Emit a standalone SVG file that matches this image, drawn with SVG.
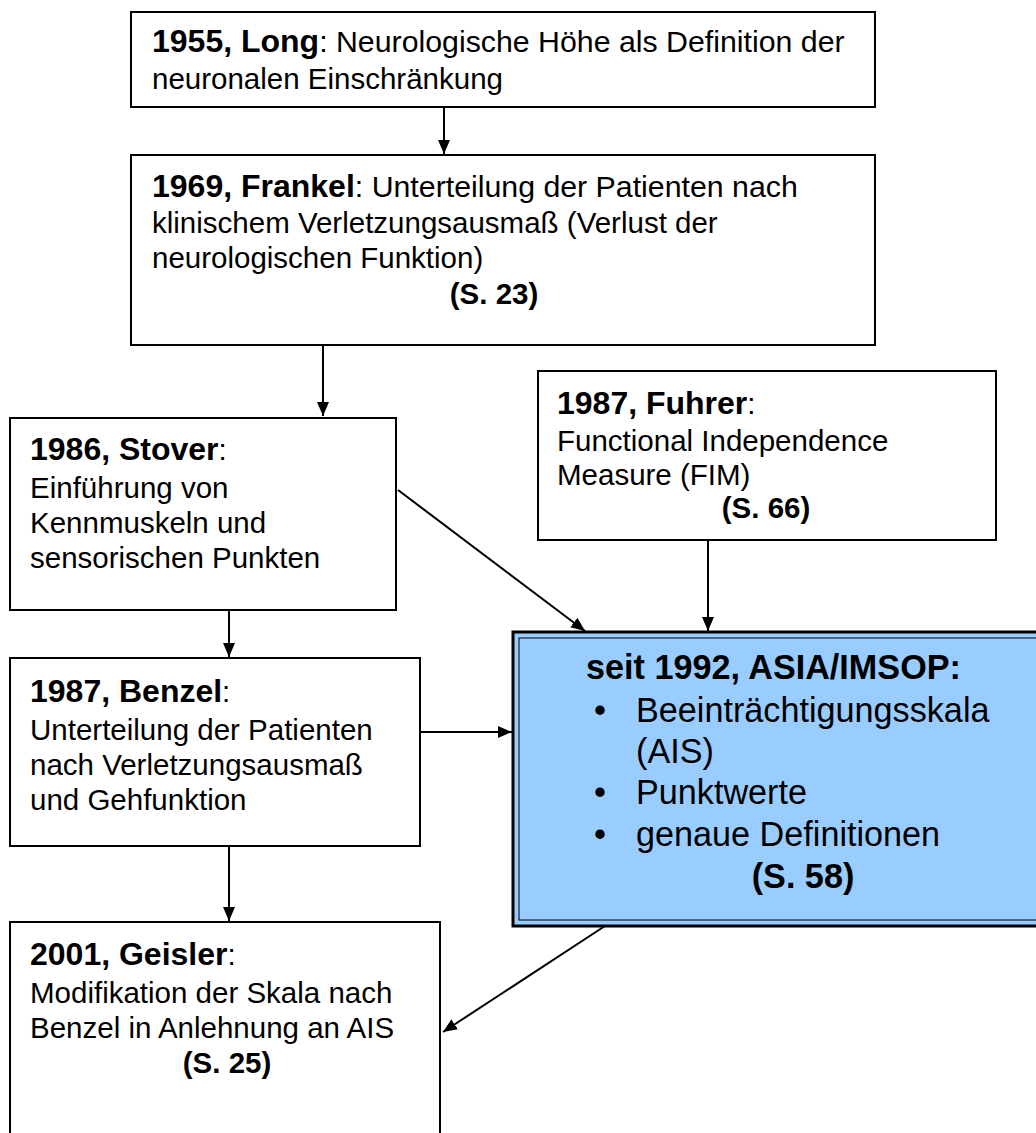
<svg xmlns="http://www.w3.org/2000/svg" width="1036" height="1133" viewBox="0 0 1036 1133">
<defs>
<style>
.box{fill:#fff;stroke:#000;stroke-width:2}
.t{font-family:"Liberation Sans",Arial,sans-serif;font-size:29.5px;fill:#000}
.f{font-size:30.3px}
.a{font-family:"Liberation Sans",Arial,sans-serif;font-size:34.2px;fill:#000}
.b{font-weight:bold}
.h{font-weight:bold;font-size:32px}
.c{stroke:#000;stroke-width:2;fill:none}
</style>
<marker id="ah" viewBox="0 0 14 12" refX="14" refY="6" markerWidth="14" markerHeight="12" markerUnits="userSpaceOnUse" orient="auto">
<path d="M0,0 L14,6 L0,12 z" fill="#000"/>
</marker>
</defs>
<rect width="1036" height="1133" fill="#fff"/>
<g id="connectors">
<line class="c" x1="444" y1="107" x2="444" y2="154" marker-end="url(#ah)"/>
<line class="c" x1="323" y1="345" x2="323" y2="416" marker-end="url(#ah)"/>
<line class="c" x1="229" y1="610" x2="229" y2="657" marker-end="url(#ah)"/>
<line class="c" x1="708" y1="540" x2="708" y2="631" marker-end="url(#ah)"/>
<line class="c" x1="398" y1="490" x2="585" y2="631" stroke-width="1.5" marker-end="url(#ah)"/>
<line class="c" x1="420" y1="732" x2="512" y2="732" marker-end="url(#ah)"/>
<line class="c" x1="229" y1="846" x2="229" y2="921" marker-end="url(#ah)"/>
<line class="c" x1="608" y1="924" x2="443" y2="1032" stroke-width="1.5" marker-end="url(#ah)"/>
</g>
<g id="long">
<rect class="box" x="131" y="12" width="744" height="95"/>
<text class="t" x="152" y="52"><tspan class="h">1955, Long</tspan><tspan class="f">: Neurologische Höhe als Definition der</tspan></text>
<text class="t" x="152" y="89">neuronalen Einschränkung</text>
</g>
<g id="frankel">
<rect class="box" x="131" y="155" width="744" height="190"/>
<text class="t" x="152" y="197"><tspan class="h">1969, Frankel</tspan><tspan class="f">: Unterteilung der Patienten nach</tspan></text>
<text class="t" x="152" y="233">klinischem Verletzungsausmaß (Verlust der</text>
<text class="t" x="152" y="268">neurologischen Funktion)</text>
<text class="t b" x="494" y="304" text-anchor="middle">(S. 23)</text>
</g>
<g id="stover">
<rect class="box" x="10" y="418" width="386" height="192"/>
<text class="t" x="30" y="460"><tspan class="h">1986, Stover</tspan>:</text>
<text class="t" x="30" y="498">Einführung von</text>
<text class="t" x="30" y="533">Kennmuskeln und</text>
<text class="t" x="30" y="568">sensorischen Punkten</text>
</g>
<g id="fuhrer">
<rect class="box" x="538" y="371" width="458" height="169"/>
<text class="t" x="557" y="414"><tspan class="h">1987, Fuhrer</tspan>:</text>
<text class="t" x="557" y="451">Functional Independence</text>
<text class="t" x="557" y="485">Measure (FIM)</text>
<text class="t b" x="766" y="518" text-anchor="middle">(S. 66)</text>
</g>
<g id="asia">
<rect x="513" y="632" width="530" height="294" fill="#99CCFF" stroke="#000" stroke-width="3"/>
<rect x="519" y="638" width="520" height="282" fill="none" stroke="#000" stroke-width="1"/>
<text class="a b" x="586" y="679" font-size="34.6">seit 1992, ASIA/IMSOP:</text>
<text class="a" x="594" y="722">•</text>
<text class="a" x="636" y="722">Beeinträchtigungsskala</text>
<text class="a" x="636" y="763">(AIS)</text>
<text class="a" x="594" y="804">•</text>
<text class="a" x="636" y="804">Punktwerte</text>
<text class="a" x="594" y="846">•</text>
<text class="a" x="636" y="846">genaue Definitionen</text>
<text class="a b" x="803" y="888" text-anchor="middle">(S. 58)</text>
</g>
<g id="benzel">
<rect class="box" x="10" y="658" width="410" height="188"/>
<text class="t" x="30" y="702"><tspan class="h">1987, Benzel</tspan>:</text>
<text class="t" x="30" y="740">Unterteilung der Patienten</text>
<text class="t" x="30" y="775">nach Verletzungsausmaß</text>
<text class="t" x="30" y="810">und Gehfunktion</text>
</g>
<g id="geisler">
<rect class="box" x="10" y="922" width="430" height="220"/>
<text class="t" x="30" y="965"><tspan class="h">2001, Geisler</tspan>:</text>
<text class="t" x="30" y="1003">Modifikation der Skala nach</text>
<text class="t" x="30" y="1038">Benzel in Anlehnung an AIS</text>
<text class="t b" x="227" y="1073" text-anchor="middle">(S. 25)</text>
</g>
</svg>
